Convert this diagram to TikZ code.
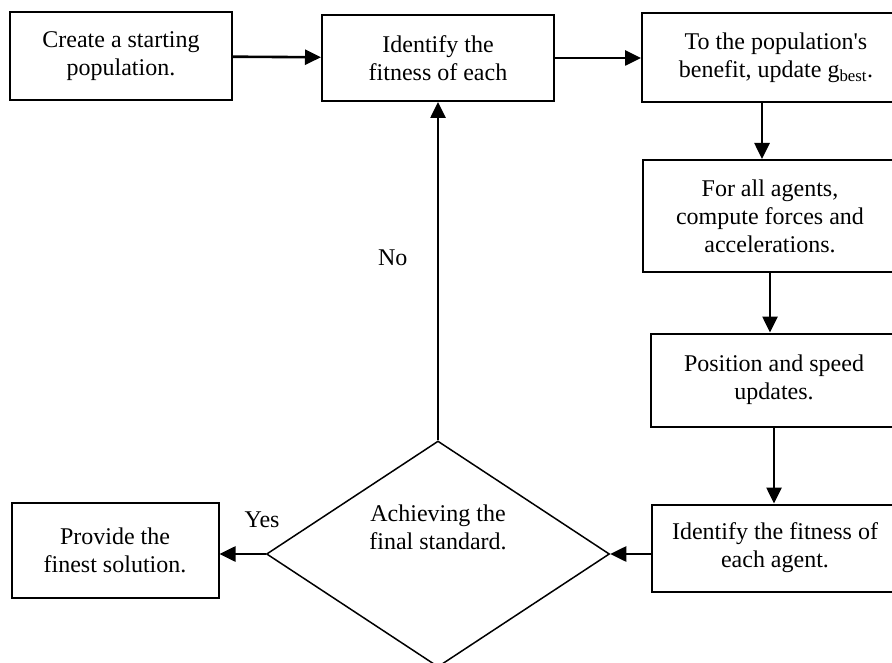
\documentclass[tikz,border=0pt]{standalone}
\usepackage{fontspec}
\setmainfont{Liberation Serif}
\usetikzlibrary{positioning, arrows.meta, shapes.geometric, calc}

\tikzset{
  txt/.style={font=\fontsize{24}{28}\selectfont},
  stepbox/.style={rectangle, draw, line width=2pt, align=center, txt, inner sep=2pt},
  decision/.style={diamond, draw, line width=1.5pt, minimum width=343pt, minimum height=226pt, inner sep=0pt},
  flow/.style={-{Triangle[length=16pt, width=15pt]}, line width=2.6pt}
}

\begin{document}
\begin{tikzpicture}[x=1pt, y=-1pt]
                \useasboundingbox (0,0) rectangle (892,663);
                \clip (0,0) rectangle (892,663);
                % Cajas
                \node[stepbox, minimum width=222pt, minimum height=88pt] (init) at (121,56) {Create a starting\\population.};
                \node[stepbox, minimum width=232pt, minimum height=86pt] (ident) at (438,58) {Identify the\\fitness of each};
                \node[stepbox, minimum width=268pt, minimum height=89pt] (gbest) at (776,58) {To the population\textquotesingle s\\benefit, update g\textsubscript{best}.};
                \node[stepbox, minimum width=254pt, minimum height=112pt] (forces) at (770,216) {For all agents,\\compute forces and\\accelerations.};
                \node[stepbox, minimum width=246pt, minimum height=93pt] (posn) at (774,380) {Position and speed\\updates.};
                \node[stepbox, minimum width=246pt, minimum height=87pt] (fitag) at (775,548) {Identify the fitness of\\each agent.};
                \node[stepbox, minimum width=207pt, minimum height=95pt] (best) at (115,550) {Provide the\\finest solution.};
                
                \node[decision] (dec) at (438,554) {};
                \node[txt, align=center] (dectxt) at (438,527) {Achieving the\\final standard.};
                
                % Flechas
                \draw[flow] (init) -- (ident);
                \draw[flow] (ident) -- (gbest);
                \draw[flow] ([xshift=-14pt]gbest.south) -- ([xshift=-14pt]gbest.south |- forces.north);
                \draw[flow] (forces.south) -- (forces.south |- posn.north);
                \draw[flow] (posn.south) -- (posn.south |- fitag.north);
                \draw[flow] (fitag.west |- dec.east) -- (dec.east);
                \draw[flow] (dec.west) -- (dec.west -| best.east) node[pos=0.08, above=22pt, txt] {Yes};
                \draw[flow] (dec.north) -- (ident.south) node[pos=0.54, left=26pt, txt] {No};
                
            \end{tikzpicture}
\end{document}
